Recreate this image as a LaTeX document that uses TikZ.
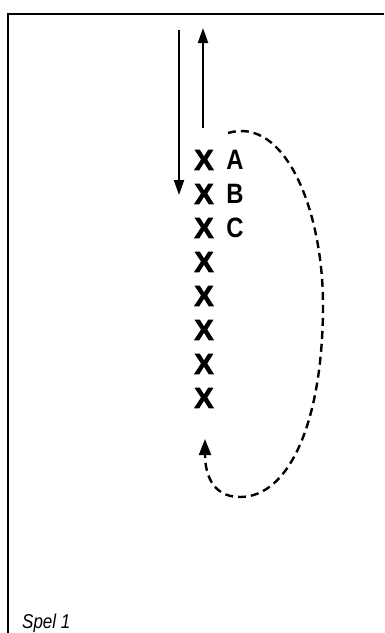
\documentclass[tikz,border=0pt]{standalone}
\usepackage{fontspec}
\setmainfont{Liberation Sans}
\newfontfamily\narrowsans[FakeStretch=0.85]{Liberation Sans}
\newfontfamily\heavysans[FakeBold=2.5]{Liberation Sans Bold}
\usetikzlibrary{arrows.meta}

\begin{document}
\begin{tikzpicture}[x=1pt, y=-1pt,
        player/.style={inner sep=0pt, font=\fontsize{29}{29}\selectfont\heavysans},
        tag/.style={inner sep=0pt, font=\fontsize{28}{28}\selectfont\narrowsans\bfseries},
        run/.style={line width=2pt, -{Triangle[length=15pt, width=10pt]}},
        loop/.style={line width=2.4pt, dash pattern=on 8pt off 5pt, -{Triangle[length=16pt, width=12pt]}},
    ]
        \useasboundingbox (0,0) rectangle (384,633);
        \draw[line width=1.6pt] (384,14) -- (8,14) -- (8,633);
        % the row of players
        \foreach \i in {1,...,8}
            \node[player] (p\i) at (204,126+34*\i) {X};
        \foreach \l [count=\i] in {A,B,C}
            \node[tag] (t\l) at (235,126+34*\i) {\l};
        % runs along the row
        \coordinate (downstart) at (179,30);
        \coordinate (downend) at (179,195);
        \coordinate (upstart) at (203,128);
        \coordinate (upend) at (203,28);
        \draw[run] (downstart) -- (downend);
        \draw[run] (upstart) -- (upend);
        % loop back to the end of the row
        \coordinate (loopstart) at (228,133);
        \coordinate (loopside) at (323,305);
        \coordinate (loopbottom) at (240,497);
        \coordinate (loopend) at (205,439);
        \draw[loop] (loopstart) .. controls (285,116) and (323,210) .. (loopside)
            .. controls (323,420) and (290,497) .. (loopbottom)
            .. controls (210,497) and (205,470) .. (loopend);
        \node[inner sep=0pt, anchor=base west, font=\fontsize{20}{20}\selectfont\narrowsans\itshape] (title) at (22,628) {Spel 1};
    \end{tikzpicture}
\end{document}
